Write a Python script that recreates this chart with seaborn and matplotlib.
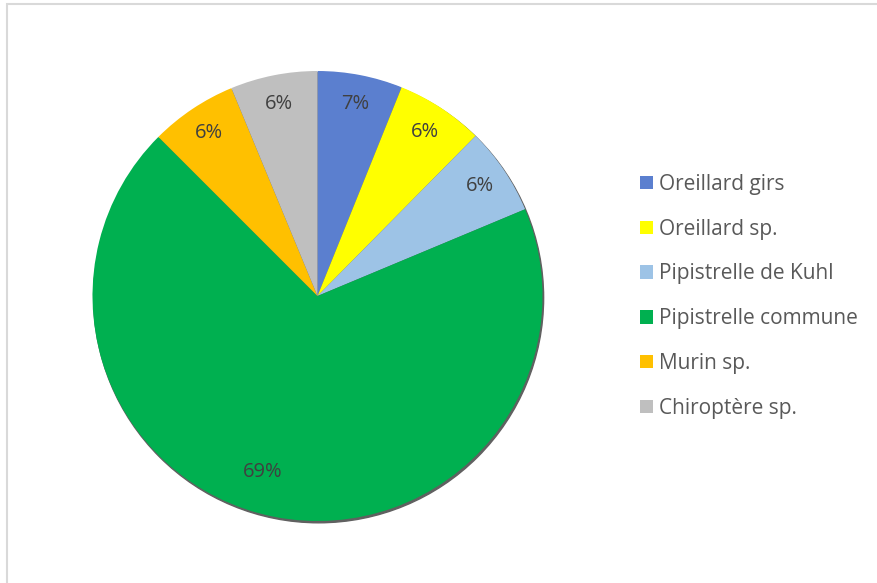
import numpy as np
import matplotlib.pyplot as plt
import matplotlib.patches as mpatches
import seaborn as sns

# Species and their share of contacts
species = ['Oreillard girs', 'Oreillard sp.', 'Pipistrelle de Kuhl',
           'Pipistrelle commune', 'Murin sp.', 'Chiroptère sp.']
shares = [6.1, 6.3, 6.3, 68.8, 6.25, 6.25]
pct_labels = ['7%', '6%', '6%', '69%', '6%', '6%']
colors = ['#5B7FCF', '#FFFF00', '#9DC3E6', '#00B050', '#FFC000', '#BFBFBF']

sns.set_theme(style="white")
plt.rcParams['font.family'] = ['Open Sans', 'DejaVu Sans']

fig = plt.figure(figsize=(8.77, 5.83), dpi=100)

# chart area border (Excel style)
fig.patches.append(mpatches.Rectangle((6.5 / 877, -0.1), 1.2, 1 - 4.5 / 583 + 0.1,
                                      transform=fig.transFigure, fill=False,
                                      edgecolor='#D9D9D9', linewidth=1.5))

ax = fig.add_axes([92.5 / 877, 62 / 583, 450 / 877, 450 / 583])

# soft shadow behind the pie
ax.add_patch(mpatches.Circle((0.005, -0.008), 1.0, color='#606060', zorder=0,
                             clip_on=False))

wedges, texts = ax.pie(shares, colors=colors, startangle=90, counterclock=False,
                       radius=1.0, wedgeprops=dict(linewidth=0, zorder=1))
for w in wedges:
    w.set_clip_on(False)

# data labels
for w, lab in zip(wedges, pct_labels):
    ang = np.deg2rad((w.theta1 + w.theta2) / 2)
    r = 0.87
    if lab == '69%':
        r = 0.82
        ang = ang - np.deg2rad(6)
    ax.text(r * np.cos(ang), r * np.sin(ang), lab, ha='center', va='center',
            fontsize=14.5, color='#404040', zorder=3)

ax.set_xlim(-1, 1)
ax.set_ylim(-1, 1)
ax.set_aspect('equal')
ax.axis('off')

fig.legend(wedges, species, loc='upper left',
           bbox_to_anchor=(640 / 877, 1 - 174 / 583),
           frameon=False, fontsize=15, labelcolor='#595959',
           handlelength=0.62, handleheight=0.62, handletextpad=0.3,
           labelspacing=1.14, borderpad=0, borderaxespad=0)

fig.savefig('out.png', dpi=100)
